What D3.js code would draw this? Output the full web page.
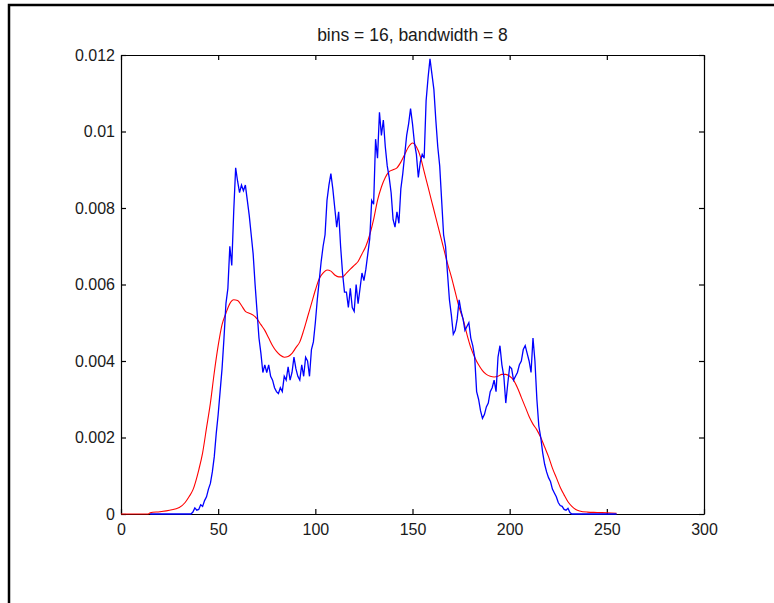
<!DOCTYPE html>
<html>
<head>
<meta charset="utf-8">
<script src="https://cdn.jsdelivr.net/npm/d3@7"></script>
<style>
  body { margin: 0; background: #fff; }
  svg { display: block; font-family: "Liberation Sans", Arial, sans-serif; }
</style>
</head>
<body>
<div id="chart"></div>
<script>
// histogram estimate (blue), one value per grey level starting at 15
const blueStart = 15;
const blueValues = [
  0, 0, 0, 0, 0, 0, 0, 0, 0, 0, 0, 0, 0, 0, 0, 0, 0, 0, 0, 0, 0, 0,          // 15-36
  0.00005, 0.00016, 0.0001, 0.00012, 0.00024, 0.0002, 0.00035, 0.00045,     // 37-44
  0.00065, 0.0008, 0.0011, 0.0015, 0.0021, 0.0026, 0.0032, 0.0038,          // 45-52
  0.0046, 0.0055, 0.0059, 0.007, 0.0065, 0.0079, 0.00905, 0.0087,           // 53-60
  0.0084, 0.0086, 0.00845, 0.0086, 0.0082, 0.0078, 0.0073, 0.0068,          // 61-68
  0.006, 0.0053, 0.0046, 0.0042, 0.0037, 0.0039, 0.0037, 0.0039,            // 69-76
  0.0036, 0.0035, 0.0033, 0.0032, 0.00315, 0.0033, 0.0032, 0.0036,          // 77-84
  0.0035, 0.00385, 0.0035, 0.0037, 0.0041, 0.0038, 0.0036, 0.0035,          // 85-92
  0.0039, 0.0036, 0.0041, 0.004, 0.0036, 0.0043, 0.0045, 0.005,             // 93-100
  0.0056, 0.0061, 0.0066, 0.007, 0.0073, 0.0082, 0.0086, 0.0089,            // 101-108
  0.0085, 0.008, 0.0075, 0.0079, 0.007, 0.0063, 0.0058, 0.0058,             // 109-116
  0.0054, 0.0059, 0.0054, 0.0053, 0.006, 0.0055, 0.0059, 0.0063,            // 117-124
  0.0061, 0.0064, 0.0068, 0.0072, 0.0082, 0.0081, 0.0098, 0.0093,           // 125-132
  0.0105, 0.0099, 0.0103, 0.0096, 0.0091, 0.0088, 0.0084, 0.0077,           // 133-140
  0.0075, 0.0079, 0.0076, 0.0085, 0.0089, 0.0094, 0.0099, 0.0102,           // 141-148
  0.0106, 0.0102, 0.0097, 0.0094, 0.0088, 0.0092, 0.0094, 0.0093,           // 149-156
  0.0108, 0.0114, 0.0119, 0.0115, 0.0111, 0.0103, 0.0096, 0.0091,           // 157-164
  0.0082, 0.0073, 0.007, 0.0063, 0.0056, 0.0052, 0.0047, 0.0048,            // 165-172
  0.0051, 0.0056, 0.0053, 0.0051, 0.0048, 0.0049, 0.005, 0.0046,            // 173-180
  0.0044, 0.0041, 0.0032, 0.003, 0.0027, 0.0025, 0.0026, 0.0028,            // 181-188
  0.0029, 0.0032, 0.0033, 0.0035, 0.0032, 0.0041, 0.0044, 0.0039,           // 189-196
  0.0036, 0.0029, 0.0034, 0.00385, 0.0038, 0.0035, 0.0036, 0.0037,          // 197-204
  0.0039, 0.004, 0.0043, 0.0044, 0.0042, 0.004, 0.0037, 0.0046,             // 205-212
  0.004, 0.003, 0.0023, 0.002, 0.0016, 0.0013, 0.0011, 0.00095,             // 213-220
  0.00085, 0.00065, 0.00055, 0.00045, 0.0003, 0.00022, 0.0002, 0.00012,     // 221-228
  0.0001, 0.00015, 0.00004, 0, 0, 0, 0, 0,                                   // 229-236
  0, 0, 0, 0, 0, 0, 0, 0, 0, 0, 0, 0, 0, 0, 0, 0, 0, 0, 0                    // 237-255
];

// kernel density estimate (red)
const redX = [0, 5, 10, 14, 15, 20, 25, 30, 33, 35, 37, 40, 42, 44, 46, 48, 50, 52, 54, 56, 58,
  60, 62, 64, 66, 68, 70, 72, 74, 76, 78, 80, 82, 84, 86, 88, 90, 92, 94, 96, 98,
  100, 102, 104, 106, 108, 110, 112, 114, 116, 118, 120, 122, 124, 126, 128, 130, 132, 134, 136, 138,
  140, 142, 144, 146, 148, 150, 152, 154, 156, 158, 160, 162, 164, 166, 168, 170, 172, 174, 176, 178,
  180, 182, 184, 186, 188, 190, 192, 194, 196, 198, 200, 202, 204, 206, 208, 210, 212, 214, 216, 218,
  220, 222, 224, 226, 228, 230, 232, 234, 236, 240, 245, 250, 255];
const redValues = [0, 0, 0, 0, 0.00003, 0.00006, 0.0001, 0.00017, 0.0003, 0.00045, 0.00063, 0.00115, 0.0016, 0.00225, 0.0029, 0.0037, 0.0044, 0.00495, 0.00525, 0.0055, 0.0056,
  0.00558, 0.00545, 0.0053, 0.00525, 0.0052, 0.0051, 0.00495, 0.0048, 0.0046, 0.0044, 0.00425, 0.00415, 0.0041, 0.00412, 0.0042, 0.00435, 0.0045, 0.0048, 0.00515, 0.0055,
  0.00585, 0.00615, 0.0063, 0.00638, 0.00635, 0.00625, 0.0062, 0.0062, 0.0063, 0.0064, 0.0065, 0.0066, 0.0068, 0.007, 0.0073, 0.0077, 0.0082, 0.00855, 0.0088, 0.00895,
  0.009, 0.00905, 0.0092, 0.0094, 0.0096, 0.0097, 0.0096, 0.00935, 0.00895, 0.00855, 0.00815, 0.00775, 0.00735, 0.00695, 0.00655, 0.0062, 0.0058, 0.0054, 0.0051, 0.0047,
  0.00435, 0.0041, 0.0039, 0.00375, 0.00365, 0.0036, 0.00358, 0.0036, 0.00365, 0.00365, 0.0036, 0.0035, 0.0033, 0.00305, 0.0028, 0.00255, 0.00235, 0.0022, 0.002, 0.00175,
  0.0015, 0.0012, 0.00095, 0.0007, 0.0005, 0.00032, 0.0002, 0.00012, 0.00008, 0.00005, 0.00004, 0.00003, 0.00002];

const xTicks = [0, 50, 100, 150, 200, 250, 300];
const yTicks = [0, 0.002, 0.004, 0.006, 0.008, 0.01, 0.012];
const yTickLabels = ["0", "0.002", "0.004", "0.006", "0.008", "0.01", "0.012"];
const titleText = "bins = 16, bandwidth = 8";

const W = 774, H = 603;
const margin = { top: 55, right: 70, bottom: 89, left: 121 };

const svg = d3.select("#chart").append("svg")
    .attr("width", W)
    .attr("height", H);

svg.append("rect").attr("width", W).attr("height", H).attr("fill", "#fff");

// figure frame (only left and top edges are visible)
svg.append("path")
    .attr("d", `M9,${H} V5 H${W}`)
    .attr("fill", "none")
    .attr("stroke", "#000")
    .attr("stroke-width", 2.5);

const x = d3.scaleLinear().domain([0, 300]).range([margin.left, W - margin.right]);
const y = d3.scaleLinear().domain([0, 0.012]).range([H - margin.bottom, margin.top]);

// axes, ticks pointing inwards on all four sides
const styleAxis = g => {
    g.selectAll(".domain").attr("stroke", "#000").attr("stroke-width", 1.2);
    g.selectAll(".tick line").attr("stroke", "#000").attr("stroke-width", 1.2);
    g.selectAll(".tick text").attr("fill", "#1a1a1a").style("font-size", "16px")
        .style("font-family", "'Liberation Sans', Arial, sans-serif");
};

svg.append("g")
    .attr("transform", `translate(0,${y(0)})`)
    .call(d3.axisBottom(x).tickValues(xTicks).tickSize(-5).tickSizeOuter(0).tickPadding(10).tickFormat(d3.format("d")))
    .call(styleAxis);

svg.append("g")
    .attr("transform", `translate(0,${y(0.012)})`)
    .call(d3.axisTop(x).tickValues(xTicks).tickSize(-5).tickSizeOuter(0).tickFormat(""))
    .call(styleAxis);

svg.append("g")
    .attr("transform", `translate(${x(0)},0)`)
    .call(d3.axisLeft(y).tickValues(yTicks).tickSize(-5).tickSizeOuter(0).tickPadding(6)
        .tickFormat((d, i) => yTickLabels[i]))
    .call(styleAxis);

svg.append("g")
    .attr("transform", `translate(${x(300)},0)`)
    .call(d3.axisRight(y).tickValues(yTicks).tickSize(-5).tickSizeOuter(0).tickFormat(""))
    .call(styleAxis);

// lines sit on top of the axes, as in the original
const blueData = blueValues.map((v, i) => [blueStart + i, v]);
const redData = redX.map((v, i) => [v, redValues[i]]);

const plot = svg.append("g");

plot.append("path")
    .datum(redData)
    .attr("fill", "none")
    .attr("stroke", "#ff0000")
    .attr("stroke-width", 1.1)
    .attr("d", d3.line().curve(d3.curveMonotoneX).x(d => x(d[0])).y(d => y(d[1])));

plot.append("path")
    .datum(blueData)
    .attr("fill", "none")
    .attr("stroke", "#0000ff")
    .attr("stroke-width", 1.3)
    .attr("d", d3.line().x(d => x(d[0])).y(d => y(d[1])));

svg.append("text")
    .attr("x", (x(0) + x(300)) / 2)
    .attr("y", 41)
    .attr("text-anchor", "middle")
    .attr("fill", "#1a1a1a")
    .style("font-size", "17.5px")
    .text(titleText);
</script>
</body>
</html>
